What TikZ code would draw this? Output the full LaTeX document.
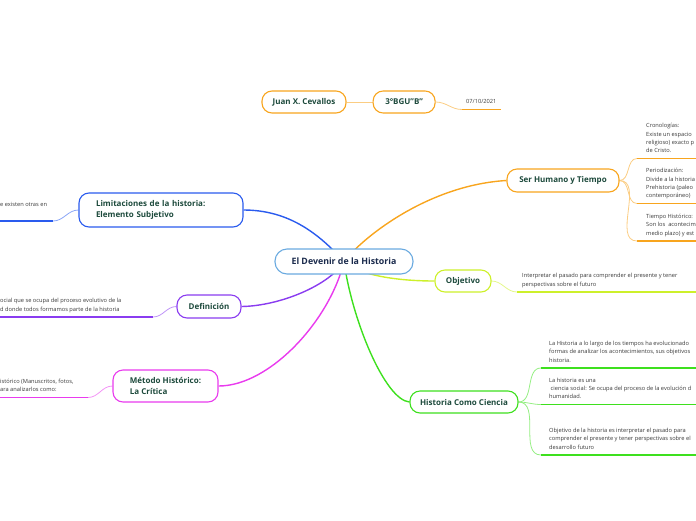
\documentclass[tikz,border=0pt]{standalone}
\usepackage{fontspec}
\setmainfont{Open Sans}
\usepackage{tikz}
\usetikzlibrary{positioning,backgrounds}

% Farben der Aeste
\definecolor{hgblau}{HTML}{2A5BEE}
\definecolor{hglila}{HTML}{8A3CF0}
\definecolor{hgmagenta}{HTML}{E93BEE}
\definecolor{hggruen}{HTML}{3EE01E}
\definecolor{hggelb}{HTML}{CDF02A}
\definecolor{hgorange}{HTML}{F8A51E}
\definecolor{zentralblau}{HTML}{6AAAE0}
\definecolor{textgruen}{HTML}{1D4A3C}
\definecolor{textnavy}{HTML}{1A2A4C}
\definecolor{textgrau}{HTML}{3A3A3A}

\newcommand{\klein}{\fontsize{5.7}{8.4}\selectfont}
\newcommand{\gross}{\fontsize{8.0}{10.6}\selectfont\bfseries}

\begin{document}
\begin{tikzpicture}[x=1pt, y=-1pt,
  haupt/.style={draw=#1, fill=white, line width=1.1pt, rounded corners=10pt,
    text=textgruen, font=\gross, minimum height=22pt, inner xsep=8pt},
  blatt/.style={anchor=south west, align=left, inner xsep=#1, inner ysep=4pt,
    text depth=1.5pt, text=textgrau, font=\klein},
  blatt/.default=5pt,
  ast/.style={draw=#1, line width=1.4pt},
  zweig/.style={draw=#1!55, line width=0.8pt},
  strich/.style={draw=#1, line width=1.5pt}
]
\useasboundingbox (0,0) rectangle (696,520);
\clip (0,0) rectangle (696,520);
\coordinate (rand) at (700,0);

% Hauptthema
\node[haupt=zentralblau, text=textnavy, minimum width=138pt, minimum height=25pt,
  rounded corners=12pt, font=\fontsize{8.8}{11}\selectfont\bfseries] (devenir) at (344,261.5) {El Devenir de la Historia};

% Kopfzeile
\node[haupt=hgorange, minimum width=84pt] (juan) at (304,102) {Juan X. Cevallos};
\node[haupt=hgorange, minimum width=62pt, right=26pt of juan] (bgu) {3°BGU"B"};
\node[blatt=4pt] (datum) at (462,109.5) {07/10/2021};

% rechte Seite
\node[haupt=hgorange, minimum width=112pt, minimum height=23pt] (ser) at (563,180.5) {Ser Humano y Tiempo};
\node[haupt=hggelb, minimum width=56pt] (obj) at (463,281) {Objetivo};
\node[haupt=hggruen, minimum width=108pt] (hist) at (464,402) {Historia Como Ciencia};

% linke Seite
\node[haupt=hgblau, minimum width=164pt, minimum height=34pt, align=left,
  text width=130pt] (limit) at (161,210) {Limitaciones de la historia:\\Elemento Subjetivo};
\node[haupt=hglila, minimum width=64pt, minimum height=23pt] (def) at (209,306.5) {Definición};
\node[haupt=hgmagenta, minimum width=105pt, minimum height=32pt, align=left] (meth) at (165.5,386) {Método Histórico:\\La Crítica};

% Blaetter rechts
\node[blatt=9pt] (crono) at (637,158.5) {Cronologías:\\Existe un espacio\\religioso) exacto p\\de Cristo.};
\node[blatt=9pt] (period) at (637,203.5) {Periodización:\\Divide a la historia\\Prehistoria (paleo\\contemporáneo)};
\node[blatt=9pt] (tiempo) at (637,241) {Tiempo Histórico:\\Son los\ \ acontecim\\medio plazo) y est};
\node[blatt] (objblatt) at (517,292) {Interpretar el pasado para comprender el presente y tener\\perspectivas sobre el futuro};
\node[blatt=8pt] (evol) at (541,368) {La Historia a lo largo de los tiempos ha evolucionado\\formas de analizar los acontecimientos, sus objetivos\\historia.};
\node[blatt=8pt] (ciencia) at (541,404.5) {La historia es una\\\ ciencia social: Se ocupa del proceso de la evolución d\\humanidad.};
\node[blatt=8pt] (interp) at (541,455) {Objetivo de la historia es interpretar el pasado para\\comprender el presente y tener perspectivas sobre el\\desarrollo futuro};

% Blaetter links
\node[blatt=0pt] (grenzblatt) at (0,221) {e existen otras en\\\mbox{}};
\coordinate (grenzende) at (53,221);
\node[blatt=0pt] (defblatt) at (0,317) {ocial que se ocupa del proceso evolutivo de la\\d donde todos formamos parte de la historia};
\coordinate (defende) at (153,317);
\node[blatt=0pt] (methblatt) at (0,397.5) {istórico (Manuscritos, fotos,\\ara analizarlos como:};
\coordinate (methende) at (88,397.5);

% Unterstriche
\draw[strich=hgorange] (datum.south west) -- (datum.south east);
\draw[strich=hgorange] (crono.south west) -- (crono.south west -| rand);
\draw[strich=hgorange] (period.south west) -- (period.south west -| rand);
\draw[strich=hgorange] (tiempo.south west) -- (tiempo.south west -| rand);
\draw[strich=hggelb] (objblatt.south west) -- (objblatt.south west -| rand);
\draw[strich=hggruen] (evol.south west) -- (evol.south west -| rand);
\draw[strich=hggruen] (ciencia.south west) -- (ciencia.south west -| rand);
\draw[strich=hggruen] (interp.south west) -- (interp.south west -| rand);
\draw[strich=hgblau] (grenzblatt.south west) -- (grenzende);
\draw[strich=hglila] (defblatt.south west) -- (defende);
\draw[strich=hgmagenta] (methblatt.south west) -- (methende);

\begin{scope}[on background layer]
% Hauptaeste
\draw[ast=hgblau] (devenir.center) .. controls (320,235) and (290,210) .. (limit.east);
\draw[ast=hgorange] (devenir.center) .. controls (365,235) and (430,185) .. (ser.west);
\draw[ast=hglila] (devenir.center) .. controls (330,285) and (280,306) .. (def.east);
\draw[ast=hgmagenta] (devenir.center) .. controls (330,320) and (270,386) .. (meth.east);
\draw[ast=hggruen] (devenir.center) .. controls (352,320) and (385,400) .. (hist.west);
\draw[ast=hggelb] (devenir.center) .. controls (360,276) and (400,281) .. (obj.west);

% Zweige
\draw[zweig=hgorange] (juan) -- (bgu);
\draw[zweig=hgorange] (bgu.east) to[out=0,in=180] (datum.south west);
\draw[zweig=hgorange] (ser.east) to[out=0,in=180] (crono.south west);
\draw[zweig=hgorange] (ser.east) to[out=0,in=180] (period.south west);
\draw[zweig=hgorange] (ser.east) to[out=0,in=180] (tiempo.south west);
\draw[zweig=hggelb] (obj.east) to[out=0,in=180] (objblatt.south west);
\draw[zweig=hggruen] (hist.east) to[out=0,in=180] (evol.south west);
\draw[zweig=hggruen] (hist.east) to[out=0,in=180] (ciencia.south west);
\draw[zweig=hggruen] (hist.east) to[out=0,in=180] (interp.south west);
\draw[zweig=hgblau] (limit.west) to[out=180,in=0] (grenzende);
\draw[zweig=hglila] (def.west) to[out=180,in=0] (defende);
\draw[zweig=hgmagenta] (meth.west) to[out=180,in=0] (methende);
\end{scope}
\end{tikzpicture}
\end{document}
